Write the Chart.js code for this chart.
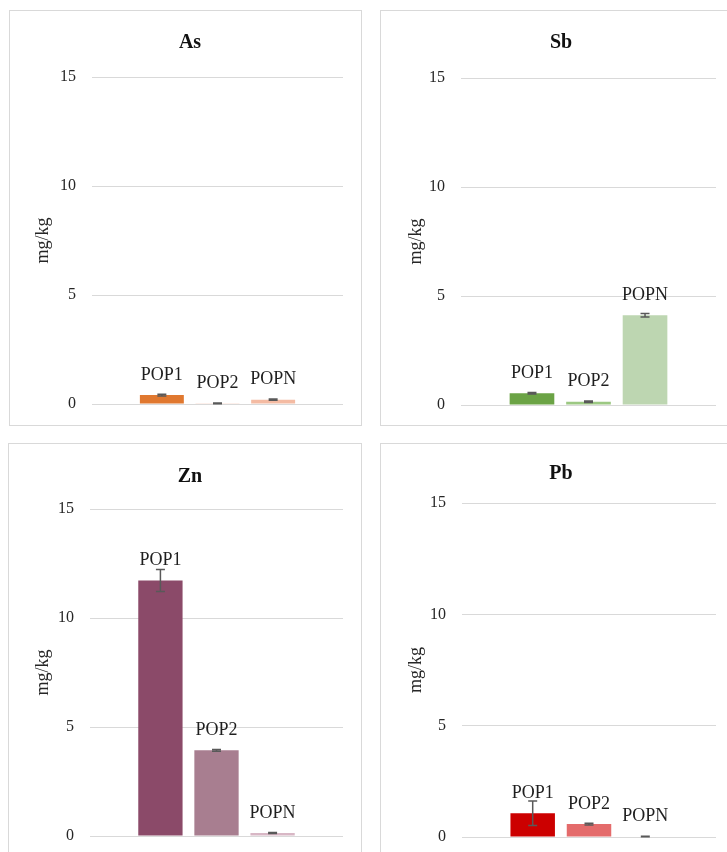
<!DOCTYPE html>
<html>
<head>
<meta charset="utf-8">
<script src="https://cdn.jsdelivr.net/npm/chart.js@4.4.0/dist/chart.umd.min.js"></script>
<style>
  html, body { margin: 0; padding: 0; background: #fff; width: 727px; height: 852px; overflow: hidden; }
  .panel { position: absolute; }
  .panel canvas { position: absolute; left: 0; top: 0; }
  .frame { position: absolute; left: 0; top: 0; right: 0; bottom: 0; border: 1px solid #d9d9d9; box-sizing: border-box; pointer-events: none; }
</style>
</head>
<body>
<div class="panel" style="left:9px;top:10px;width:353px;height:416px"><canvas id="cAs" width="353" height="416"></canvas><div class="frame"></div></div>
<div class="panel" style="left:380px;top:10px;width:353px;height:416px"><canvas id="cSb" width="353" height="416"></canvas><div class="frame"></div></div>
<div class="panel" style="left:8px;top:443px;width:354px;height:416px"><canvas id="cZn" width="354" height="416"></canvas><div class="frame"></div></div>
<div class="panel" style="left:380px;top:443px;width:353px;height:416px"><canvas id="cPb" width="353" height="416"></canvas><div class="frame"></div></div>
<script>
// Populations (one bar each per element panel)
const seriesNames = ['POP1', 'POP2', 'POPN'];
const yTicks = [0, 5, 10, 15];

// Mean concentrations (mg/kg) and their error half-widths
const asMean = [0.41, 0.03, 0.20];
const asErr  = [0.04, 0.02, 0.03];
const sbMean = [0.54, 0.15, 4.12];
const sbErr  = [0.03, 0.03, 0.08];
const znMean = [11.72, 3.93, 0.14];
const znErr  = [0.51, 0.04, 0.02];
const pbMean = [1.07, 0.58, 0.02];
const pbErr  = [0.55, 0.04, 0.01];

const asColors = ['#E0782F', '#F6C3AE', '#F4BBA3'];
const sbColors = ['#6BA345', '#9CC882', '#BDD6B1'];
const znColors = ['#8B4A69', '#A87E90', '#D8B7C5'];
const pbColors = ['#CC0000', '#E46B6B', '#F2B5B5'];

const SERIF = '"Liberation Serif", "Times New Roman", serif';

// Draws error bars and the series-name label above each bar
const errorBarsAndLabels = {
  id: 'errorBars',
  afterDatasetsDraw(chart, args, opts) {
    const ctx = chart.ctx;
    const y = chart.scales.y;
    ctx.save();
    chart.data.datasets.forEach((ds, i) => {
      const bar = chart.getDatasetMeta(i).data[0];
      if (!bar) return;
      const v = ds.data[0];
      const e = opts.errors[i];
      const yHi = y.getPixelForValue(v + e);
      const yLo = y.getPixelForValue(v - e);
      ctx.strokeStyle = '#595959';
      ctx.lineWidth = 1.5;
      ctx.beginPath();
      ctx.moveTo(bar.x, yHi); ctx.lineTo(bar.x, yLo);
      ctx.moveTo(bar.x - 4.5, yHi); ctx.lineTo(bar.x + 4.5, yHi);
      ctx.moveTo(bar.x - 4.5, yLo); ctx.lineTo(bar.x + 4.5, yLo);
      ctx.stroke();
    });
    chart.data.datasets.forEach((ds, i) => {
      const bar = chart.getDatasetMeta(i).data[0];
      if (!bar) return;
      ctx.fillStyle = '#1f1f1f';
      ctx.font = '18px ' + SERIF;
      ctx.textAlign = 'center';
      ctx.textBaseline = 'middle';
      ctx.fillText(ds.label, bar.x, bar.y - 20);
    });
    ctx.restore();
  }
};

function makePanel(id, title, means, errs, colors, box) {
  const padL = 2 * box.tx - box.r;
  new Chart(document.getElementById(id), {
    type: 'bar',
    data: {
      labels: [title],
      datasets: seriesNames.map((name, i) => ({
        label: name,
        data: [means[i]],
        backgroundColor: colors[i],
        borderWidth: 0,
        categoryPercentage: 0.665,
        barPercentage: 0.79
      }))
    },
    options: {
      responsive: false,
      animation: false,
      devicePixelRatio: 1,
      layout: { padding: { left: padL, right: box.w - box.r, top: 0, bottom: box.h - box.b } },
      plugins: {
        legend: { display: false },
        tooltip: { enabled: false },
        title: {
          display: true,
          text: title,
          color: '#111',
          font: { family: SERIF, size: 20, weight: 'bold', lineHeight: 1.2 },
          padding: { top: box.ty - 12, bottom: box.t - box.ty - 12 }
        },
        errorBars: { errors: errs }
      },
      scales: {
        x: { display: false },
        y: {
          min: 0,
          max: 15,
          afterBuildTicks: s => { s.ticks = yTicks.map(v => ({ value: v })); },
          afterFit: s => {
            s.width = box.l - padL;
            s.paddingTop = 0;
            s.paddingBottom = 0;
          },
          grid: { color: '#d9d9d9', lineWidth: 1, drawTicks: false },
          border: { display: false },
          ticks: { padding: 16, color: '#262626', font: { family: SERIF, size: 16 } },
          title: {
            display: true,
            text: 'mg/kg',
            color: '#262626',
            font: { family: SERIF, size: 18, lineHeight: '10px' },
            padding: { top: box.yt - padL - 5, bottom: 0 }
          }
        }
      }
    },
    plugins: [errorBarsAndLabels]
  });
}

makePanel('cAs', 'As', asMean, asErr, asColors, { w: 353, h: 416, l: 83, r: 334, t: 67, b: 394, tx: 181, ty: 33, yt: 34 });
makePanel('cSb', 'Sb', sbMean, sbErr, sbColors, { w: 353, h: 416, l: 81, r: 336, t: 68, b: 395, tx: 181, ty: 33, yt: 36 });
makePanel('cZn', 'Zn', znMean, znErr, znColors, { w: 354, h: 416, l: 82, r: 335, t: 66, b: 393, tx: 182, ty: 34, yt: 35 });
makePanel('cPb', 'Pb', pbMean, pbErr, pbColors, { w: 353, h: 416, l: 82, r: 336, t: 60, b: 394, tx: 181, ty: 31, yt: 36 });
</script>
</body>
</html>
